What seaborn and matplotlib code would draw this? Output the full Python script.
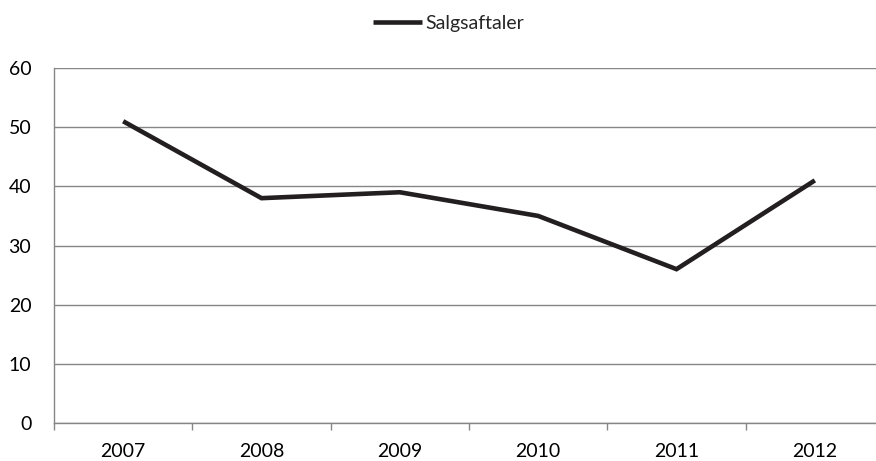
#!/usr/bin/env python3

"""Line chart of sales agreements per year."""

import matplotlib
matplotlib.use('Agg')
import matplotlib.pyplot as plt
import numpy as np
import pandas as pd
import seaborn as sns


YEARS = ['2007', '2008', '2009', '2010', '2011', '2012']
SALGSAFTALER = [51, 38, 39, 35, 26, 41]
Y_TICKS = [0, 10, 20, 30, 40, 50, 60]

LINE_COLOR = '#231f20'
GRID_COLOR = '#868686'


def main():
    sns.set_style('white')
    plt.rcParams['font.family'] = ['Lato', 'DejaVu Sans']
    plt.rcParams['font.size'] = 14

    df = pd.DataFrame({'year': YEARS, 'value': SALGSAFTALER})

    fig = plt.figure(figsize=(8.76, 4.61), dpi=100)
    ax = fig.add_axes([54 / 876, 38 / 461, 830 / 876, 355 / 461])

    sns.lineplot(data=df, x='year', y='value', ax=ax, color=LINE_COLOR,
                 linewidth=3.3, label='Salgsaftaler', legend=False,
                 solid_joinstyle='miter', solid_capstyle='butt')

    ax.set_xlim(-0.5, len(YEARS) - 0.5)
    ax.set_ylim(0, 60)
    ax.set_yticks(Y_TICKS)
    ax.set_xticks(range(len(YEARS)))
    ax.set_xticklabels(YEARS)
    ax.set_xticks(np.arange(len(YEARS) + 1) - 0.5, minor=True)
    ax.set_xlabel('')
    ax.set_ylabel('')

    ax.yaxis.grid(True, color=GRID_COLOR, linewidth=1.0)
    ax.set_axisbelow(True)
    for side in ('top', 'right'):
        ax.spines[side].set_visible(False)
    for side in ('left', 'bottom'):
        ax.spines[side].set_color(GRID_COLOR)
        ax.spines[side].set_linewidth(1.0)

    ax.tick_params(axis='y', which='major', direction='out', length=4.3,
                   width=1.0, color=GRID_COLOR, pad=12, labelcolor='black')
    ax.tick_params(axis='x', which='major', length=0, pad=14.5, labelcolor='black')
    ax.tick_params(axis='x', which='minor', direction='out', length=5,
                   width=1.0, color=GRID_COLOR, bottom=True)

    handles, labels = ax.get_legend_handles_labels()
    fig.legend(handles, labels, loc='center left', bbox_to_anchor=(373 / 876, 1 - 23 / 461),
               frameon=False, handlelength=2.5, handletextpad=0.2, borderpad=0,
               borderaxespad=0, fontsize=14)

    fig.savefig('out.png', dpi=100)
    plt.close(fig)


if __name__ == '__main__':
    main()
